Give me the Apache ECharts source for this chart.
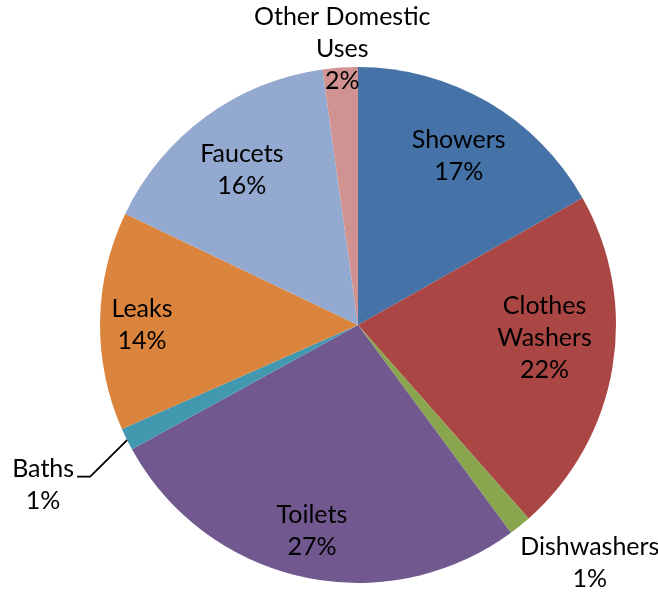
<!DOCTYPE html>
<html>
<head>
<meta charset="utf-8">
<script src="https://cdn.jsdelivr.net/npm/echarts@6/dist/echarts.min.js"></script>
<style>html,body{margin:0;padding:0;background:#fff}#c{width:658px;height:592px}</style>
</head>
<body>
<div id="c"></div>
<script>
const categories = ['Showers', 'Clothes\nWashers', 'Dishwashers', 'Toilets', 'Baths', 'Leaks', 'Faucets', 'Other Domestic\nUses'];
const values = [16.8, 21.7, 1.4, 27.1, 1.4, 13.7, 15.7, 2.2];
const colors = ['#4572A7', '#AA4643', '#89A54E', '#71588F', '#4198AF', '#DB843D', '#93A9CF', '#D19392'];

// label placement: [radius from centre, angle tweak in degrees]
const labelPlace = [[197, 0.5], [187, -5.5], [332, -5.4], [211, 0.2], [353, -0.6], [216, -0.9], [194, -0.6], [277, 0.7]];
const CX = 358, CY = 325, R = 258;

const total = values.reduce((a, b) => a + b, 0);
const midAngles = [];
let cum = 0;
values.forEach(v => { midAngles.push((cum + v / 2) / total * 360); cum += v; });

const chart = echarts.init(document.getElementById('c'), null, {renderer: 'canvas'});
chart.setOption({
  animation: false,
  backgroundColor: '#ffffff',
  series: [{
    type: 'pie',
    center: [CX, CY],
    radius: R,
    startAngle: 90,
    clockwise: true,
    avoidLabelOverlap: false,
    silent: true,
    itemStyle: {borderWidth: 0},
    label: {
      show: true,
      position: 'inside',
      fontFamily: 'Lato',
      fontSize: 25,
      lineHeight: 32,
      color: '#000',
      formatter: p => p.name + '\n' + Math.round(p.value) + '%'
    },
    labelLine: {show: false},
    data: categories.map((c, i) => ({
      name: c,
      value: values[i],
      itemStyle: {color: colors[i]},
      label: (i === 4) ? {position: 'outside'} : undefined,
      labelLine: (i === 4) ? {show: true, smooth: false, lineStyle: {color: '#000', width: 1.8}} : undefined
    })),
    labelLayout: function (p) {
      const i = p.dataIndex;
      const a = (midAngles[i] + labelPlace[i][1]) * Math.PI / 180;
      const r = labelPlace[i][0];
      const x = CX + r * Math.sin(a);
      const y = CY - r * Math.cos(a);
      const res = {x: x, y: y, align: 'center', verticalAlign: 'middle'};
      if (i === 4) {
        const am = midAngles[i] * Math.PI / 180;
        const p0 = [CX + (R - 3) * Math.sin(am), CY - (R - 3) * Math.cos(am)];
        res.labelLinePoints = [p0, [x + 47, y - 8], [x + 34, y - 8]];
      }
      return res;
    }
  }]
});
</script>
</body>
</html>
